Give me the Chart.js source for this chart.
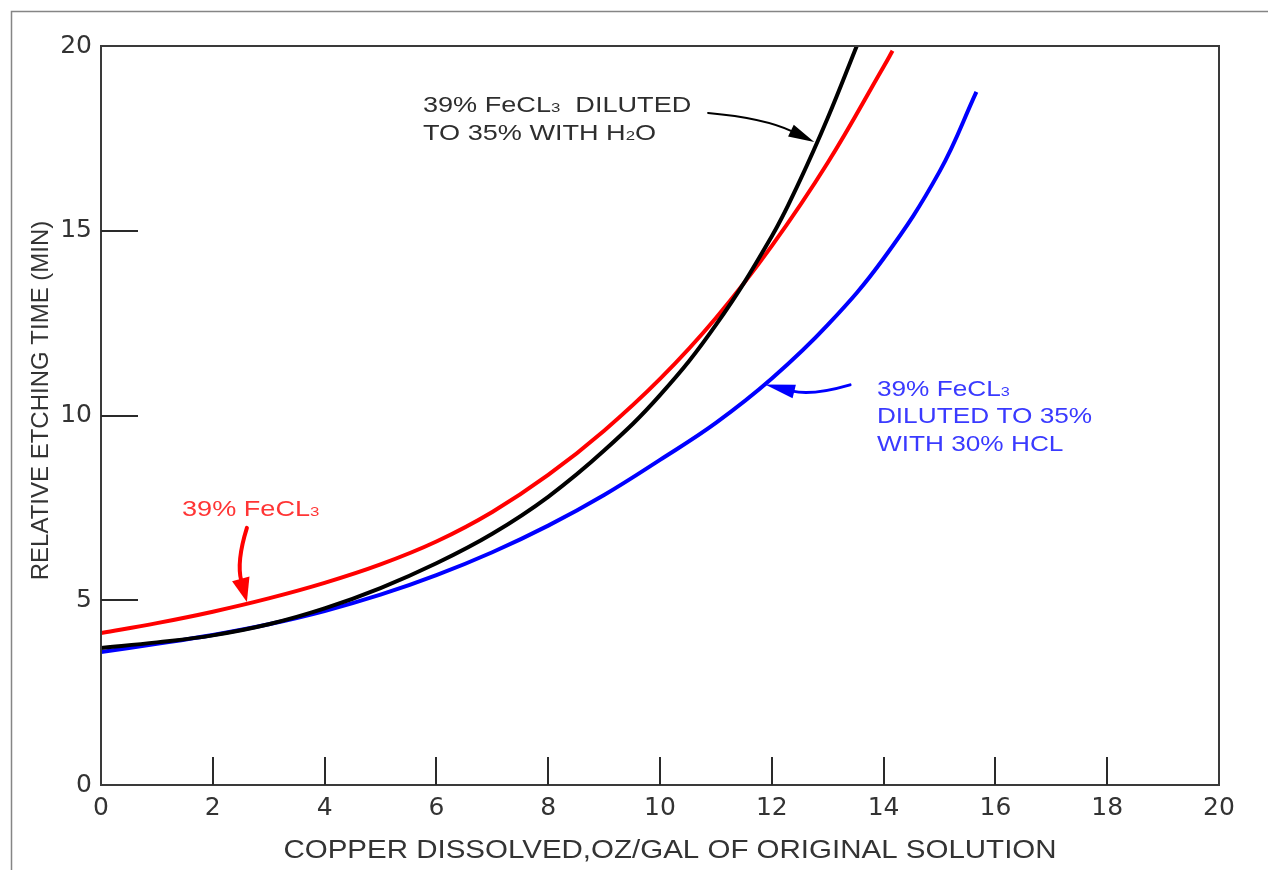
<!DOCTYPE html>
<html>
<head>
<meta charset="utf-8">
<title>Relative etching time vs copper dissolved</title>
<script src="https://cdn.jsdelivr.net/npm/chart.js@4.4.1/dist/chart.umd.min.js"></script>
<style>
  html, body { margin: 0; padding: 0; background: #fff; }
  canvas { display: block; }
</style>
</head>
<body>
<canvas id="etch" width="1268" height="870"></canvas>
<script>
// Copper dissolved (oz/gal of original solution) and relative etching time (min)
const copperH2O   = [0, 1, 2, 3, 4, 5, 6, 7, 8, 9, 10, 11, 12, 12.5, 13, 13.52];
const timeH2O     = [3.71, 3.86, 4.05, 4.35, 4.78, 5.33, 6.0, 6.8, 7.8, 9.05, 10.55, 12.45, 14.85, 16.35, 18.05, 20.0];

const copperFeCl3 = [0, 1, 2, 3, 4, 5, 6, 7, 8, 9, 10, 11, 12, 13, 14, 14.16];
const timeFeCl3   = [4.11, 4.38, 4.69, 5.05, 5.47, 5.97, 6.59, 7.39, 8.39, 9.59, 10.99, 12.64, 14.59, 16.84, 19.44, 19.87];

const copperHCl   = [0, 1, 2, 3, 4, 5, 6, 7, 8, 9, 10, 11, 12, 13, 14, 15, 15.66];
const timeHCl     = [3.6, 3.82, 4.06, 4.35, 4.71, 5.15, 5.68, 6.3, 7.02, 7.85, 8.8, 9.8, 11.0, 12.45, 14.25, 16.6, 18.76];

const xTicks = [0, 2, 4, 6, 8, 10, 12, 14, 16, 18, 20];
const yTicks = [0, 5, 10, 15, 20];

const xTitle = 'COPPER DISSOLVED,OZ/GAL OF ORIGINAL SOLUTION';
const yTitle = 'RELATIVE ETCHING TIME (MIN)';

// "_3" marks a small digit set on the baseline (chemical formula index)
const labelH2O   = ['39% FeCL_3  DILUTED', 'TO 35% WITH H_2O'];
const labelFeCl3 = ['39% FeCL_3'];
const labelHCl   = ['39% FeCL_3', 'DILUTED TO 35%', 'WITH 30% HCL'];

const toPoints = (xs, ys) => xs.map((x, i) => ({ x, y: ys[i] }));

const FONT = '"Liberation Sans", Arial, sans-serif';

function richLine(ctx, x, y, str, size, stretch, color) {
  ctx.save();
  ctx.translate(x, y);
  ctx.scale(stretch, 1);
  ctx.fillStyle = color;
  ctx.textAlign = 'left';
  ctx.textBaseline = 'alphabetic';
  let cx = 0;
  str.split(/_(\d)/).forEach((part, i) => {
    if (!part) return;
    const small = i % 2 === 1;
    ctx.font = (small ? size * 0.62 : size) + 'px ' + FONT;
    ctx.fillText(part, cx, 0);
    cx += ctx.measureText(part).width;
  });
  ctx.restore();
}

function arrow(ctx, s, c, t, color, lw, headLen, headW) {
  const ang = Math.atan2(t.y - c.y, t.x - c.x);
  const bx = t.x - headLen * Math.cos(ang);
  const by = t.y - headLen * Math.sin(ang);
  ctx.save();
  ctx.strokeStyle = color;
  ctx.fillStyle = color;
  ctx.lineWidth = lw;
  ctx.lineCap = 'round';
  ctx.beginPath();
  ctx.moveTo(s.x, s.y);
  ctx.quadraticCurveTo(c.x, c.y, bx + 2 * Math.cos(ang), by + 2 * Math.sin(ang));
  ctx.stroke();
  ctx.beginPath();
  ctx.moveTo(t.x, t.y);
  ctx.lineTo(bx + headW / 2 * Math.sin(ang), by - headW / 2 * Math.cos(ang));
  ctx.lineTo(bx - headW / 2 * Math.sin(ang), by + headW / 2 * Math.cos(ang));
  ctx.closePath();
  ctx.fill();
  ctx.restore();
}

// Frame, inward tick marks, axis titles and callouts
const figureDecor = {
  id: 'figureDecor',
  beforeDraw(chart) {
    const ctx = chart.ctx;
    ctx.save();
    ctx.fillStyle = '#fff';
    ctx.fillRect(0, 0, chart.width, chart.height);
    ctx.strokeStyle = '#858585';
    ctx.lineWidth = 1.5;
    ctx.beginPath();
    ctx.moveTo(11.5, chart.height);
    ctx.lineTo(11.5, 11.5);
    ctx.lineTo(chart.width, 11.5);
    ctx.stroke();
    ctx.restore();
  },
  afterDatasetsDraw(chart) {
    const ctx = chart.ctx;
    const { left, right, top, bottom } = chart.chartArea;
    const sx = chart.scales.x, sy = chart.scales.y;
    const P = (x, y) => ({ x: sx.getPixelForValue(x), y: sy.getPixelForValue(y) });

    ctx.save();
    // plot box
    ctx.strokeStyle = '#3a3a3a';
    ctx.lineWidth = 2;
    ctx.strokeRect(left, top, right - left, bottom - top);

    // tick marks pointing into the plot
    ctx.strokeStyle = '#2a2a2a';
    ctx.lineWidth = 2;
    ctx.beginPath();
    yTicks.slice(1, -1).forEach(v => {
      const y = Math.round(sy.getPixelForValue(v));
      ctx.moveTo(left, y); ctx.lineTo(left + 37, y);
    });
    xTicks.slice(1, -1).forEach(v => {
      const x = Math.round(sx.getPixelForValue(v));
      ctx.moveTo(x, bottom); ctx.lineTo(x, bottom - 28);
    });
    ctx.stroke();

    // axis titles
    ctx.font = '25px ' + FONT;
    const wx = ctx.measureText(xTitle).width * 1.18;
    richLine(ctx, (left + right) / 2 + 10 - wx / 2, bottom + 73, xTitle, 25, 1.18, '#333');

    ctx.save();
    ctx.translate(48, (top + bottom) / 2 - 15);
    ctx.rotate(-Math.PI / 2);
    ctx.font = '24px ' + FONT;
    ctx.fillStyle = '#333';
    ctx.textAlign = 'center';
    ctx.textBaseline = 'alphabetic';
    ctx.fillText(yTitle, 0, 0);
    ctx.restore();

    // callout: water dilution (black)
    let a = P(5.76, 18.21);
    labelH2O.forEach((l, i) => richLine(ctx, a.x, a.y + i * 28, l, 21.5, 1.26, '#2e2e2e'));
    arrow(ctx, P(10.86, 18.19), P(11.88, 18.05), P(12.76, 17.4), '#000', 2, 26, 13);

    // callout: straight ferric chloride (red)
    a = P(1.45, 7.28);
    labelFeCl3.forEach((l, i) => richLine(ctx, a.x, a.y + i * 28, l, 21.5, 1.26, '#ff3535'));
    arrow(ctx, P(2.61, 6.96), P(2.42, 6.04), P(2.61, 4.95), '#ff0000', 4, 24, 18);

    // callout: HCl dilution (blue)
    a = P(13.88, 10.53);
    labelHCl.forEach((l, i) => richLine(ctx, a.x, a.y + i * 27.5, l, 21.5, 1.22, '#3a3aff'));
    arrow(ctx, P(13.40, 10.83), P(12.72, 10.53), P(11.88, 10.84), '#0000ff', 3, 30, 14);

    ctx.restore();
  }
};

const lineStyle = {
  borderWidth: 4,
  pointRadius: 0,
  fill: false,
  tension: 0.4
};

new Chart(document.getElementById('etch'), {
  type: 'line',
  data: {
    datasets: [
      { ...lineStyle, label: '39% FeCL3 diluted to 35% with H2O', data: toPoints(copperH2O, timeH2O), borderColor: '#000000' },
      { ...lineStyle, label: '39% FeCL3', data: toPoints(copperFeCl3, timeFeCl3), borderColor: '#ff0000' },
      { ...lineStyle, label: '39% FeCL3 diluted to 35% with 30% HCL', data: toPoints(copperHCl, timeHCl), borderColor: '#0000ff' }
    ]
  },
  options: {
    responsive: false,
    devicePixelRatio: 1,
    animation: false,
    layout: { padding: { top: 46, right: 49, left: 0, bottom: 0 } },
    plugins: { legend: { display: false }, tooltip: { enabled: false } },
    scales: {
      x: {
        type: 'linear',
        min: 0, max: 20,
        afterBuildTicks: s => { s.ticks = xTicks.map(v => ({ value: v })); },
        afterFit: s => { s.height = 85; },
        grid: { display: false, drawTicks: false },
        border: { display: false },
        ticks: { padding: 8, color: '#333', font: { family: '"DejaVu Sans", sans-serif', size: 25 } }
      },
      y: {
        type: 'linear',
        min: 0, max: 20,
        afterBuildTicks: s => { s.ticks = yTicks.map(v => ({ value: v })); },
        afterFit: s => { s.width = 101; },
        grid: { display: false, drawTicks: false },
        border: { display: false },
        ticks: { padding: 9, color: '#333', font: { family: '"DejaVu Sans", sans-serif', size: 25 } }
      }
    }
  },
  plugins: [figureDecor]
});
</script>
</body>
</html>
